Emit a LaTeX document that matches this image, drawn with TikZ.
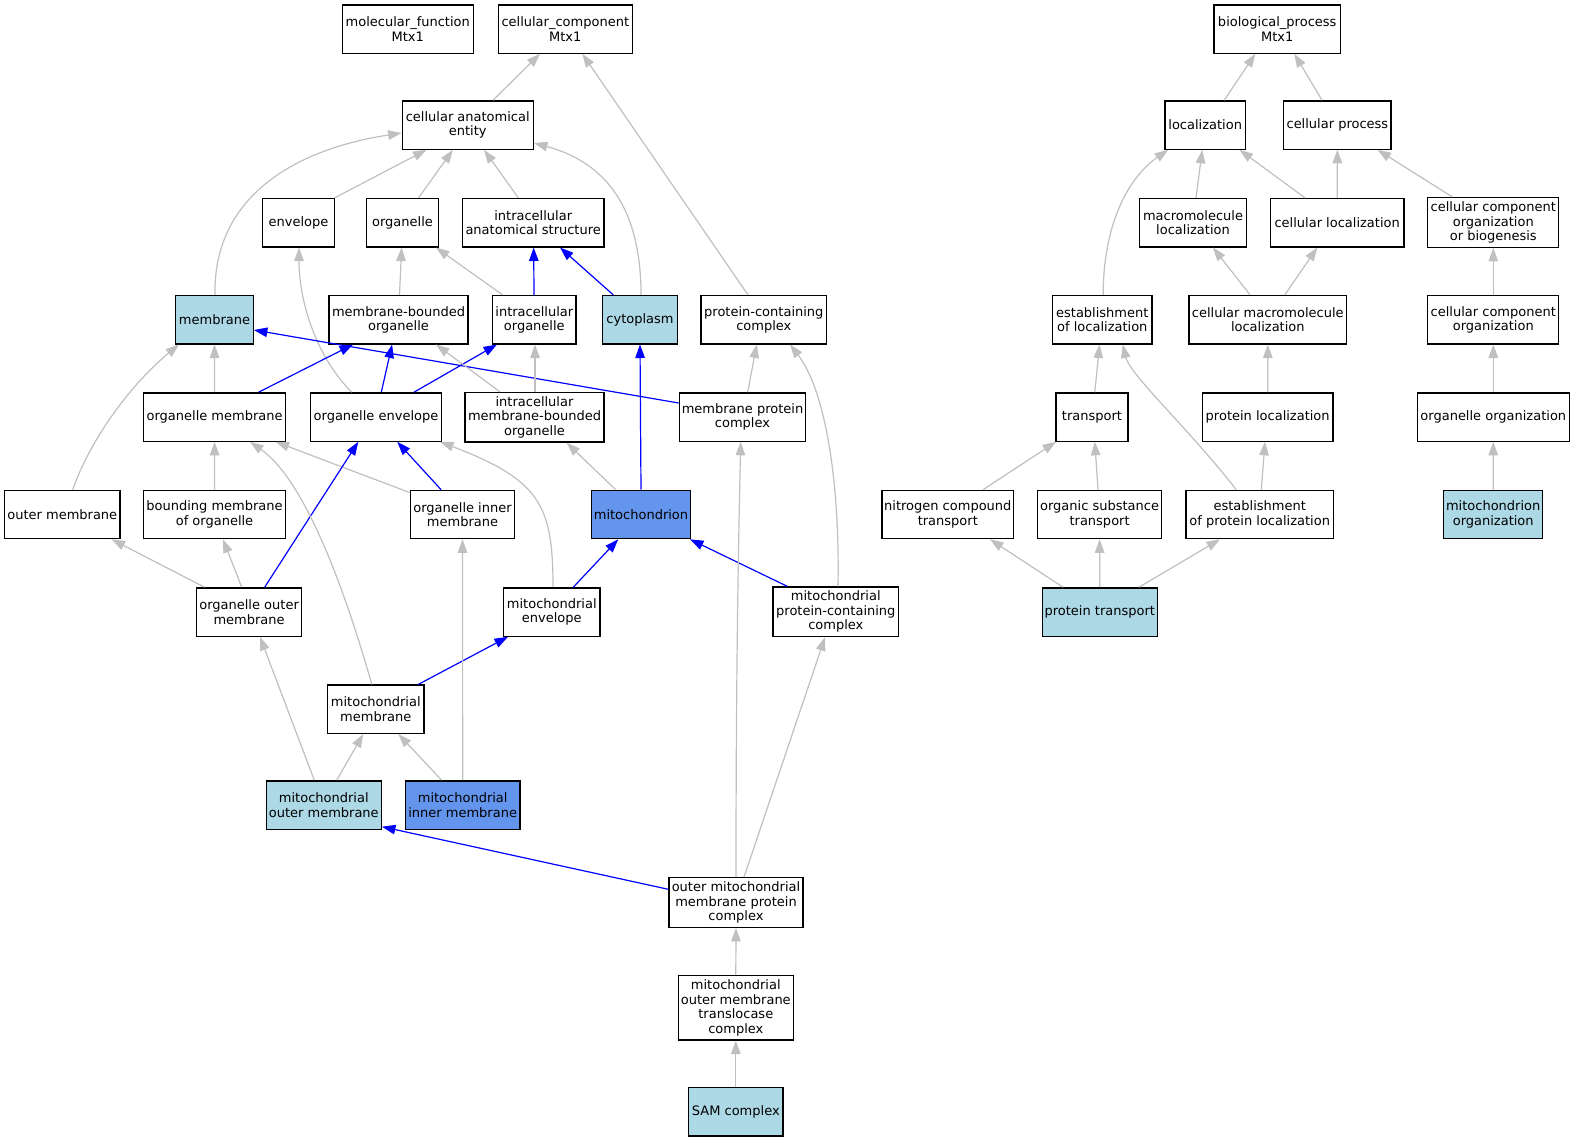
\documentclass[tikz,border=0pt]{standalone}
\usepackage{fontspec}
\setmainfont{DejaVu Sans}
\usetikzlibrary{arrows.meta,calc}
\definecolor{edgegray}{HTML}{C0C0C0}
\definecolor{lblue}{HTML}{ADD8E6}
\definecolor{cblue}{HTML}{6495ED}
\definecolor{eblue}{HTML}{0000FF}
\begin{document}
\begin{tikzpicture}[x=1pt,y=-1pt,
 box/.style={draw=black,line width=1.3pt,fill=white,inner sep=0pt,align=center,minimum height=48.3pt,font=\fontsize{13pt}{14.5pt}\selectfont},
 lb/.style={fill=lblue}, cb/.style={fill=cblue},
 ge/.style={draw=edgegray,line width=1.2pt,-{Triangle[length=13.5pt,width=9.5pt]}},
 be/.style={draw=eblue,line width=1.2pt,-{Triangle[length=13.5pt,width=9.5pt]}}
]
\useasboundingbox[fill=white] (0,0) rectangle (1575,1141);
% nodes
\node[box,minimum width=130.8pt] (mf) at (407.8,29) {molecular\_function\\Mtx1};
\node[box,minimum width=134pt] (ccr) at (565.3,29) {cellular\_component\\Mtx1};
\node[box,minimum width=126.4pt] (bpr) at (1277.2,29) {biological\_process\\Mtx1};
\node[box,minimum width=131.1pt] (cae) at (467.75,125) {cellular anatomical\\entity};
\node[box,minimum width=80.7pt] (loc) at (1205.2,125) {localization};
\node[box,minimum width=107.3pt] (cp) at (1337.4,125) {cellular process};
\node[box,minimum width=72.3pt] (env) at (298.5,222.7) {envelope};
\node[box,minimum width=72.3pt] (org) at (402.5,222.7) {organelle};
\node[box,minimum width=141.7pt] (ias) at (533.2,222.7) {intracellular\\anatomical structure};
\node[box,minimum width=106.9pt] (ml) at (1193,222.7) {macromolecule\\localization};
\node[box,minimum width=133.8pt] (cl) at (1337.2,222.7) {cellular localization};
\node[box,minimum width=131pt,minimum height=49.6pt] (ccob) at (1493.3,222.5) {cellular component\\organization\\or biogenesis};
\node[box,lb,minimum width=77.4pt] (mem) at (214.5,319.7) {membrane};
\node[box,minimum width=139.2pt] (mbo) at (398.5,319.7) {membrane-bounded\\organelle};
\node[box,minimum width=83.3pt] (io) at (534.3,319.7) {intracellular\\organelle};
\node[box,lb,minimum width=74.6pt] (cyt) at (640,319.7) {cytoplasm};
\node[box,minimum width=125.7pt] (pcc) at (763.8,319.7) {protein-containing\\complex};
\node[box,minimum width=99.4pt] (eol) at (1102.3,319.7) {establishment\\of localization};
\node[box,minimum width=157.9pt] (cml) at (1267.8,319.7) {cellular macromolecule\\localization};
\node[box,minimum width=131pt] (cco) at (1493.3,319.7) {cellular component\\organization};
\node[box,minimum width=141.9pt] (om) at (214.6,417) {organelle membrane};
\node[box,minimum width=130.8pt] (oe) at (376,417) {organelle envelope};
\node[box,minimum width=139pt,minimum height=49.6pt] (imbo) at (534.5,417.3) {intracellular\\membrane-bounded\\organelle};
\node[box,minimum width=126.4pt] (mpc) at (742.5,417) {membrane protein\\complex};
\node[box,minimum width=72pt] (tr) at (1092,417) {transport};
\node[box,minimum width=130.4pt] (pl) at (1267.7,417) {protein localization};
\node[box,minimum width=152.3pt] (oo) at (1493.3,417) {organelle organization};
\node[box,minimum width=115.3pt] (outm) at (62.3,514.5) {outer membrane};
\node[box,minimum width=141.6pt] (bmo) at (214.5,514.5) {bounding membrane\\of organelle};
\node[box,minimum width=104.5pt] (oim) at (462.5,514.5) {organelle inner\\membrane};
\node[box,cb,minimum width=99.4pt] (mito) at (641,514.5) {mitochondrion};
\node[box,minimum width=131.8pt] (nct) at (947.8,514.5) {nitrogen compound\\transport};
\node[box,minimum width=123.6pt] (ost) at (1099.6,514.5) {organic substance\\transport};
\node[box,minimum width=147.3pt] (eopl) at (1259.7,514.5) {establishment\\of protein localization};
\node[box,lb,minimum width=98.9pt] (mo) at (1493.2,514.5) {mitochondrion\\organization};
\node[box,minimum width=104.8pt] (oom) at (249.1,612) {organelle outer\\membrane};
\node[box,minimum width=96.3pt] (me) at (551.8,612) {mitochondrial\\envelope};
\node[box,minimum width=125.7pt,minimum height=49.6pt] (mpcc) at (835.8,611.8) {mitochondrial\\protein-containing\\complex};
\node[box,lb,minimum width=114.9pt] (pt) at (1099.8,612) {protein transport};
\node[box,minimum width=96.3pt] (mm) at (375.8,709.2) {mitochondrial\\membrane};
\node[box,lb,minimum width=115pt] (mom) at (323.8,805) {mitochondrial\\outer membrane};
\node[box,cb,minimum width=114.7pt] (mim) at (462.7,805) {mitochondrial\\inner membrane};
\node[box,minimum width=134pt,minimum height=49.6pt] (ommpc) at (736,902.5) {outer mitochondrial\\membrane protein\\complex};
\node[box,minimum width=115pt,minimum height=64.3pt] (momtc) at (735.8,1007.8) {mitochondrial\\outer membrane\\translocase\\complex};
\node[box,lb,minimum width=94.3pt] (sam) at (735.8,1111.8) {SAM complex};
% CC edges
\draw[ge] ($(cae.north)+(25.25,0)$) -- ($(ccr.south)+(-25.3,0)$);
\draw[ge] ($(pcc.north)+(-15.8,0)$) -- ($(ccr.south)+(17,0)$);
\draw[ge] ($(env.north)+(36,0)$) -- ($(cae.south)+(-41.2,0)$);
\draw[ge] ($(org.north)+(16,0)$) -- ($(cae.south)+(-14.8,0)$);
\draw[ge] ($(ias.north)+(-14.9,0)$) -- ($(cae.south)+(16.3,0)$);
\draw[ge] ($(mem.north)+(0.5,0)$) .. controls (213,200) and (290,150) .. ($(cae.west)+(0,8)$);
\draw[ge] ($(cyt.north)+(1,0)$) .. controls (641,220) and (615,165) .. ($(cae.east)+(0,18)$);
\draw[be] ($(io.north)+(-0.3,0)$) -- ($(ias.south)+(0.5,0)$);
\draw[be] ($(cyt.north)+(-26.7,0)$) -- ($(ias.south)+(26.8,0)$);
\draw[ge] ($(mbo.north)+(1,0)$) -- ($(org.south)+(-0.9,0)$);
\draw[ge] ($(io.north)+(-31.7,0)$) -- ($(org.south)+(33.5,0)$);
\draw[ge] ($(oe.north)+(-24.4,0)$) .. controls (315,355) and (299,300) .. ($(env.south)+(0.5,0)$);
\draw[be] ($(mpc.west)+(0,-14)$) -- ($(mem.east)+(0,10.3)$);
\draw[ge] (om.north) -- (mem.south);
\draw[ge] ($(outm.north)+(10.4,0)$) .. controls (90,440) and (130,385) .. ($(mem.south)+(-35.5,0)$);
\draw[be] ($(om.north)+(44,0)$) -- ($(mbo.south)+(-45.5,0)$);
\draw[be] ($(oe.north)+(5.3,0)$) -- ($(mbo.south)+(-6.4,0)$);
\draw[be] ($(oe.north)+(38,0)$) -- ($(io.south)+(-37.3,0)$);
\draw[ge] ($(imbo.north)+(-34.5,0)$) -- ($(mbo.south)+(37.5,0)$);
\draw[ge] ($(imbo.north)+(0.5,0)$) -- ($(io.south)+(0.7,0)$);
\draw[ge] ($(mpc.north)+(5.2,0)$) -- ($(pcc.south)+(-7.1,0)$);
\draw[ge] ($(mpcc.north)+(2.2,0)$) .. controls (840,480) and (825,390) .. ($(pcc.south)+(26.2,0)$);
\draw[be] (mito.north) -- (cyt.south);
\draw[ge] ($(mito.north)+(-25.3,0)$) -- ($(imbo.south)+(32.2,0)$);
\draw[ge] ($(oim.north west)+(0,2.8)$) -- ($(om.south)+(61,0)$);
\draw[be] ($(oim.north)+(-21.4,0)$) -- ($(oe.south)+(21.2,0)$);
\draw[ge] (bmo.north) -- (om.south);
\draw[ge] ($(oom.north)+(-44.6,0)$) -- ($(outm.south)+(49.3,0)$);
\draw[ge] ($(oom.north)+(-7.4,0)$) -- ($(bmo.south)+(8.5,0)$);
\draw[be] ($(oom.north)+(15.6,0)$) -- ($(oe.south)+(-17.7,0)$);
\draw[ge] ($(me.north)+(1.2,0)$) .. controls (553,505) and (540,480) .. ($(oe.south east)+(-1.9,0)$);
\draw[ge] ($(mm.north)+(-4,0)$) .. controls (345,590) and (305,480) .. ($(om.south)+(35.4,0)$);
\draw[be] ($(mm.north)+(42.5,0)$) -- ($(me.south)+(-43.8,0)$);
\draw[ge] (mim.north) -- (oim.south);
\draw[ge] ($(mom.north)+(-9.5,0)$) -- ($(oom.south)+(10.9,0)$);
\draw[ge] ($(mom.north)+(12.9,0)$) -- ($(mm.south)+(-12.5,0)$);
\draw[ge] ($(mim.north)+(-21,0)$) -- ($(mm.south)+(22.5,0)$);
\draw[be] ($(me.north)+(21.5,0)$) -- ($(mito.south)+(-22.7,0)$);
\draw[be] ($(mpcc.north)+(-48.5,0)$) -- ($(mito.south)+(49,0)$);
\draw[be] ($(ommpc.west)+(0,-13.2)$) -- ($(mom.east)+(0,21.7)$);
\draw[ge] (ommpc.north) .. controls (736,650) and (739,520) .. ($(mpc.south)+(-1.8,0)$);
\draw[ge] ($(ommpc.north)+(8,0)$) -- ($(mpcc.south)+(-10.8,0)$);
\draw[ge] (momtc.north) -- (ommpc.south);
\draw[ge] (sam.north) -- (momtc.south);
% BP edges
\draw[ge] ($(loc.north)+(19,0)$) -- ($(bpr.south)+(-21.8,0)$);
\draw[ge] ($(cp.north)+(-15.4,0)$) -- ($(bpr.south)+(17.1,0)$);
\draw[ge] ($(ml.north)+(3,0)$) -- ($(loc.south)+(-2.9,0)$);
\draw[ge] ($(cl.north)+(-32.2,0)$) -- ($(loc.south)+(34.3,0)$);
\draw[ge] (cl.north) -- (cp.south);
\draw[ge] ($(ccob.north)+(-40.7,0)$) -- ($(cp.south)+(40.1,0)$);
\draw[ge] ($(eol.north)+(0.9,0)$) .. controls (1103,230) and (1125,180) .. ($(loc.south west)+(3.9,0)$);
\draw[ge] ($(cml.north)+(-17.8,0)$) -- ($(ml.south)+(20,0)$);
\draw[ge] ($(cml.north)+(17,0)$) -- ($(cl.south)+(-19.9,0)$);
\draw[ge] (cco.north) -- (ccob.south);
\draw[ge] ($(tr.north)+(2.8,0)$) -- ($(eol.south)+(-2.7,0)$);
\draw[ge] ($(eopl.north)+(-23.5,0)$) .. controls (1190,430) and (1130,375) .. ($(eol.south)+(20.4,0)$);
\draw[ge] (pl.north) -- (cml.south);
\draw[ge] ($(nct.north)+(35.2,0)$) -- ($(tr.south)+(-36,0)$);
\draw[ge] ($(ost.north)+(-1.6,0)$) -- ($(tr.south)+(2.8,0)$);
\draw[ge] ($(eopl.north)+(1.6,0)$) -- ($(pl.south)+(-2.7,0)$);
\draw[ge] ($(pt.north)+(-36.8,0)$) -- ($(nct.south)+(42.2,0)$);
\draw[ge] (pt.north) -- (ost.south);
\draw[ge] ($(pt.north)+(39.2,0)$) -- ($(eopl.south)+(-39.7,0)$);
\draw[ge] (oo.north) -- (cco.south);
\draw[ge] (mo.north) -- (oo.south);
\end{tikzpicture}
\end{document}
